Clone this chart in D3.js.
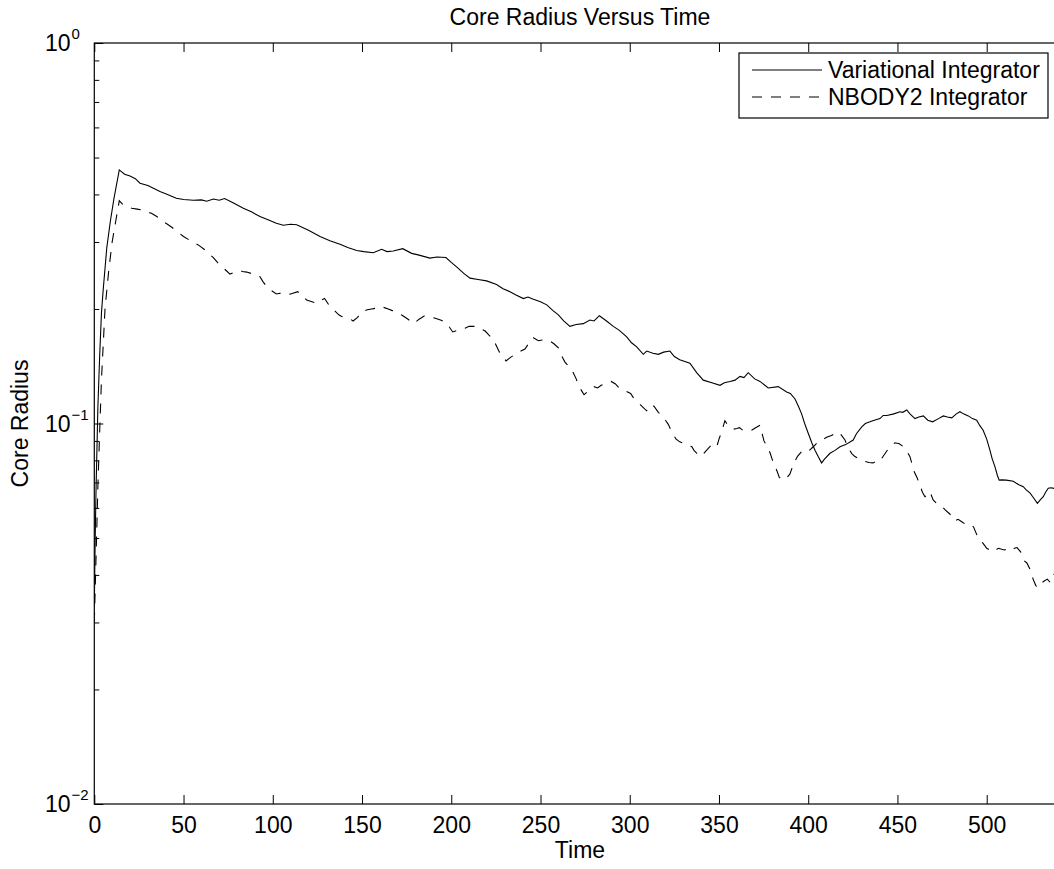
<!DOCTYPE html>
<html>
<head>
<meta charset="utf-8">
<script src="https://cdn.jsdelivr.net/npm/d3@7"></script>
<style>
  body { margin: 0; background: #fff; }
  svg { display: block; }
  text { font-family: Arial, "Liberation Sans", Helvetica, sans-serif; fill: #000; }
  .axis path { display: none; }
  .axis line { stroke: #000; stroke-width: 1; }
</style>
</head>
<body>
<svg width="1054" height="869"></svg>
<script>
// Variational integrator (solid)
const varTime = [0,0.5,1,2,3,4,5,7,9,11,14,17,20,23,25.6,30,36.8,41,46,50,55.5,60,63,66.7,70,73,78,83.5,88,92.8,98,102,105.9,110,113.4,120,126.5,132,137.7,142,147,151,156.3,161,164,167.5,172.8,177.8,182,188,192,197,200,203,207,210.5,215,219.8,225.4,229,232.9,236,240.4,243,246,250,253.5,257,260,263,266.5,270,274,277.7,280,283,287,290.8,294,298.3,301,303.9,307.6,309.5,313,316,319,322.5,325,328,333.7,337.5,341.2,346,350.6,353,356.2,359,361.8,364,366.4,370,373,377.6,383.2,387.9,390,392.6,394.5,396.3,398,400,402,403.8,405.5,407.5,409,412.2,415,417.8,421,425.2,427,430,432,434.6,437,440.2,442,444,448,451.4,453,455.2,457,459.8,462,464.5,467,469.7,473,475.7,478,480.4,483,485,487,489.7,492,494.4,496,498,500,501.8,503,504.6,506,507,508.4,511,514.9,518,520.5,522,524.3,526,528.4,530,531.7,533,534.5,536,538,544];
const varRadius = [0.033,0.05,0.068,0.11,0.15,0.195,0.225,0.29,0.34,0.39,0.464,0.452,0.447,0.44,0.428,0.422,0.407,0.4,0.391,0.388,0.386,0.387,0.384,0.389,0.386,0.39,0.38,0.368,0.36,0.35,0.342,0.336,0.332,0.334,0.333,0.322,0.31,0.302,0.296,0.29,0.285,0.283,0.281,0.287,0.283,0.284,0.288,0.28,0.277,0.272,0.274,0.273,0.265,0.258,0.248,0.241,0.239,0.237,0.232,0.226,0.222,0.218,0.213,0.215,0.212,0.209,0.205,0.198,0.193,0.186,0.18,0.182,0.183,0.187,0.186,0.192,0.186,0.18,0.176,0.169,0.163,0.159,0.152,0.155,0.153,0.152,0.154,0.155,0.15,0.147,0.144,0.136,0.13,0.128,0.126,0.128,0.129,0.13,0.133,0.132,0.136,0.131,0.129,0.124,0.125,0.121,0.12,0.116,0.111,0.106,0.1,0.0943,0.089,0.0851,0.082,0.0788,0.0805,0.0835,0.085,0.0869,0.088,0.0905,0.094,0.098,0.1,0.101,0.102,0.103,0.105,0.105,0.106,0.1074,0.107,0.1085,0.106,0.103,0.104,0.1047,0.102,0.101,0.103,0.1047,0.104,0.1035,0.106,0.1074,0.106,0.1047,0.103,0.102,0.099,0.096,0.091,0.0851,0.081,0.077,0.073,0.071,0.0711,0.071,0.0705,0.069,0.0682,0.067,0.0656,0.064,0.0617,0.063,0.0642,0.066,0.0676,0.0678,0.0675,0.068];

// NBODY2 integrator (dashed)
const nbTime = [0,1,2,3,4,6,8,10,12,14,16,18.2,21,24,26.5,29,32,35,38.6,41,43.4,47,50,53,55.5,59,62,64,66.7,69,72,74,76,79,81.6,83,85.4,89,92.8,94.5,96.6,99,102,104,107,110,114,116,119,122,124.6,127,129,132,135,137,138.6,142,145,147.5,150,153,155.4,158,160,162,164.7,167,169.4,172,175,177,179,182,185,188,191,194,197.4,199,200.8,204,207.7,210,213.3,216,219,221,223.2,225,227,229,230.7,233,236.7,239,241.3,244,246,248.8,252,255,257.5,260,262,263.7,266,268,270,271,273,274.4,277,280,282,284,287,289.6,292,294,297,300.5,302,303.9,306,309.5,311,312,313.6,316,317.8,320,321.6,324,326,328,330,332,334.8,336,337.6,340,342,344,346,348.8,350,351.5,353.3,355,358,360,361.5,363.3,366,368.3,370.5,373,375.2,377,378.5,380,381.4,382.5,383.8,386,388,389.7,392,394,396.9,398.5,400.6,403,404.7,407,410.3,413,416.3,418,420.6,422,424.3,426,429,432,434,436.3,438,440,442,445,448.6,451,453.3,455,457,459.4,461,462.2,464,465.4,467,468.2,470,472.8,475,476.6,479,481,482,484,486,488,490,492.6,495.3,497,498,500,503.3,505,506.5,508.4,510,512,514,515.5,517,519,520.5,522.5,524.3,526,527.5,529,530.4,532,534,535.6,537.3,544];
const nbRadius = [0.03,0.045,0.068,0.095,0.13,0.2,0.25,0.3,0.34,0.385,0.376,0.371,0.368,0.366,0.364,0.36,0.357,0.35,0.339,0.334,0.328,0.318,0.31,0.304,0.3,0.293,0.286,0.28,0.273,0.265,0.257,0.252,0.247,0.25,0.252,0.251,0.25,0.247,0.243,0.236,0.229,0.224,0.219,0.22,0.218,0.219,0.222,0.218,0.211,0.209,0.207,0.211,0.213,0.203,0.197,0.193,0.191,0.19,0.186,0.19,0.197,0.199,0.2,0.201,0.203,0.202,0.2,0.198,0.196,0.193,0.189,0.186,0.183,0.188,0.192,0.191,0.189,0.187,0.184,0.179,0.174,0.176,0.178,0.18,0.18,0.178,0.175,0.171,0.167,0.161,0.154,0.15,0.146,0.149,0.153,0.155,0.157,0.164,0.168,0.165,0.166,0.165,0.162,0.158,0.15,0.145,0.141,0.137,0.131,0.127,0.122,0.119,0.122,0.125,0.124,0.126,0.128,0.129,0.127,0.124,0.122,0.12,0.117,0.115,0.112,0.108,0.11,0.112,0.111,0.107,0.105,0.102,0.0995,0.094,0.091,0.0895,0.0887,0.088,0.0869,0.085,0.0835,0.082,0.084,0.086,0.088,0.0869,0.091,0.095,0.1017,0.099,0.0966,0.097,0.0975,0.096,0.0955,0.096,0.0975,0.099,0.09,0.087,0.084,0.08,0.0773,0.075,0.0722,0.071,0.072,0.0736,0.0788,0.082,0.085,0.0845,0.085,0.087,0.0887,0.09,0.092,0.093,0.095,0.094,0.0905,0.087,0.0835,0.082,0.0805,0.0795,0.079,0.0788,0.0795,0.0794,0.082,0.086,0.089,0.0885,0.0869,0.085,0.0818,0.0747,0.072,0.0696,0.066,0.0642,0.065,0.0662,0.063,0.0611,0.0605,0.0594,0.058,0.0569,0.0555,0.056,0.0552,0.0544,0.0545,0.0535,0.0499,0.049,0.0484,0.047,0.046,0.0465,0.047,0.0467,0.0465,0.047,0.0465,0.047,0.0472,0.046,0.0438,0.043,0.0414,0.039,0.0375,0.037,0.0379,0.0385,0.039,0.0382,0.04,0.043];

const xTicks = [0,50,100,150,200,250,300,350,400,450,500];
const yDecades = [-2,-1,0];
const seriesNames = ['Variational Integrator', 'NBODY2 Integrator'];

const plotLeft = 94.3, plotTop = 43, plotBottom = 804;
const xMax = 544;
const plotRight = plotLeft + xMax * 1.7848;
const fontSize = '23px';

const svg = d3.select('svg');

const x = d3.scaleLinear().domain([0, xMax]).range([plotLeft, plotRight]);
const y = d3.scaleLog().domain([0.01, 1]).range([plotBottom, plotTop]);

// minor log ticks
const yMinor = [];
for (let d = -2; d < 0; d++) {
  for (let m = 2; m <= 9; m++) yMinor.push(m * Math.pow(10, d));
}
const yMajor = yDecades.map(d => Math.pow(10, d));

svg.append('defs').append('clipPath').attr('id', 'plot')
  .append('rect').attr('x', plotLeft).attr('y', plotTop)
  .attr('width', plotRight - plotLeft).attr('height', plotBottom - plotTop);

// bottom axis
const xAxis = svg.append('g')
  .attr('class', 'axis')
  .attr('transform', `translate(0, ${plotBottom})`)
  .call(d3.axisBottom(x).tickValues(xTicks).tickSize(-9).tickPadding(13).tickFormat(d3.format('d')));
xAxis.selectAll('text').style('font-size', fontSize);

// top axis
svg.append('g')
  .attr('class', 'axis')
  .attr('transform', `translate(0, ${plotTop})`)
  .call(d3.axisTop(x).tickValues(xTicks).tickSize(-9).tickFormat(''));

// left axis, major + minor
svg.append('g')
  .attr('class', 'axis')
  .attr('transform', `translate(${plotLeft}, 0)`)
  .call(d3.axisLeft(y).tickValues(yMajor).tickSize(-9).tickFormat(''));
svg.append('g')
  .attr('class', 'axis')
  .attr('transform', `translate(${plotLeft}, 0)`)
  .call(d3.axisLeft(y).tickValues(yMinor).tickSize(-5).tickFormat(''));

// right axis
svg.append('g')
  .attr('class', 'axis')
  .attr('transform', `translate(${plotRight}, 0)`)
  .call(d3.axisRight(y).tickValues(yMajor).tickSize(-9).tickFormat(''));
svg.append('g')
  .attr('class', 'axis')
  .attr('transform', `translate(${plotRight}, 0)`)
  .call(d3.axisRight(y).tickValues(yMinor).tickSize(-5).tickFormat(''));

// y tick labels 10^n
const yLabels = svg.append('g').selectAll('text')
  .data(yDecades)
  .enter()
  .append('text')
  .attr('x', 45)
  .attr('y', d => y(Math.pow(10, d)) + 8)
  .style('font-size', fontSize);
yLabels.append('tspan').text('10');
yLabels.append('tspan')
  .attr('dx', 1)
  .attr('dy', -12)
  .style('font-size', '15px')
  .text(d => d < 0 ? '\u2212' + (-d) : String(d));

// box
svg.append('rect')
  .attr('x', plotLeft).attr('y', plotTop)
  .attr('width', plotRight - plotLeft).attr('height', plotBottom - plotTop)
  .attr('fill', 'none').attr('stroke', '#000').attr('stroke-width', 1.2);

// lines
const line = d3.line().x(d => x(d[0])).y(d => y(d[1]));
const plot = svg.append('g').attr('clip-path', 'url(#plot)');

plot.append('path')
  .datum(varTime.map((t, i) => [t, varRadius[i]]))
  .attr('d', line)
  .attr('fill', 'none').attr('stroke', '#000').attr('stroke-width', 1.1);

plot.append('path')
  .datum(nbTime.map((t, i) => [t, nbRadius[i]]))
  .attr('d', line)
  .attr('fill', 'none').attr('stroke', '#000').attr('stroke-width', 1.1)
  .attr('stroke-dasharray', '10,9');

// legend
const legend = svg.append('g');
legend.append('rect')
  .attr('x', 739).attr('y', 53).attr('width', 309).attr('height', 65)
  .attr('fill', '#fff').attr('stroke', '#000').attr('stroke-width', 1.2);
seriesNames.forEach((name, i) => {
  const ly = 70 + i * 27;
  legend.append('line')
    .attr('x1', 752).attr('x2', 822).attr('y1', ly).attr('y2', ly)
    .attr('stroke', '#000').attr('stroke-width', 1.1)
    .attr('stroke-dasharray', i === 1 ? '10,9' : null);
  legend.append('text')
    .attr('x', 828).attr('y', ly + 8)
    .style('font-size', fontSize)
    .text(name);
});

// titles
svg.append('text')
  .attr('x', 580).attr('y', 25)
  .attr('text-anchor', 'middle')
  .style('font-size', fontSize)
  .text('Core Radius Versus Time');

svg.append('text')
  .attr('x', 580).attr('y', 858)
  .attr('text-anchor', 'middle')
  .style('font-size', fontSize)
  .text('Time');

svg.append('text')
  .attr('transform', `translate(28, ${(plotTop + plotBottom) / 2}) rotate(-90)`)
  .attr('text-anchor', 'middle')
  .style('font-size', fontSize)
  .text('Core Radius');
</script>
</body>
</html>
